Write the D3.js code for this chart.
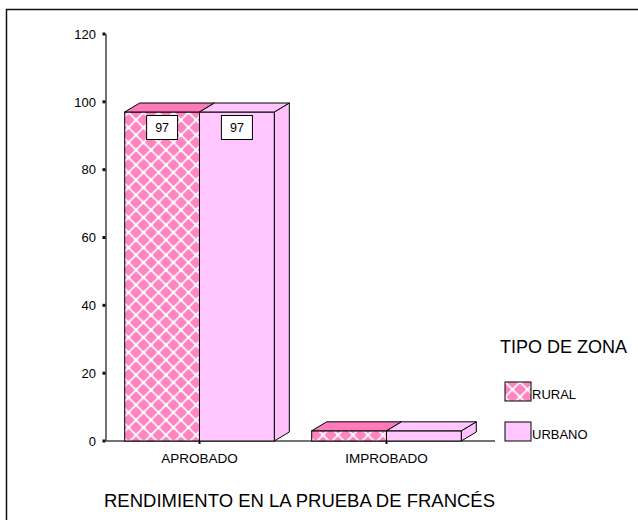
<!DOCTYPE html>
<html>
<head>
<meta charset="utf-8">
<script src="https://cdn.jsdelivr.net/npm/d3@7"></script>
<style>
  body { margin: 0; background: #fff; }
  text { font-family: "Liberation Sans", Arial, sans-serif; fill: #000; }
</style>
</head>
<body>
<svg id="chart" width="638" height="520"></svg>
<script>
// data
const categories = ["APROBADO", "IMPROBADO"]
const seriesNames = ["RURAL", "URBANO"]
const ruralValues = [97, 3]
const urbanoValues = [97, 3]
const yTicks = [0, 20, 40, 60, 80, 100, 120]
const legendTitle = "TIPO DE ZONA"
const xTitle = "RENDIMIENTO EN LA PRUEBA DE FRANCÉS"

let svg = d3.select("#chart")

// frame round the chart (runs off the right and bottom edges)
svg.append("rect")
  .attr("x", 6.5).attr("y", 9.5)
  .attr("width", 700).attr("height", 600)
  .attr("fill", "none").attr("stroke", "#111").attr("stroke-width", 1.5)

// lattice pattern for the rural bars
let defs = svg.append("defs")
const T = 15
let pat = defs.append("pattern")
  .attr("id", "lattice")
  .attr("patternUnits", "userSpaceOnUse")
  .attr("width", T).attr("height", T)
pat.append("rect").attr("width", T).attr("height", T).attr("fill", "#ff85c2")
pat.append("path").attr("d", "M0,0L" + T + "," + T + "M" + T + ",0L0," + T)
  .attr("stroke", "#ffe6f3").attr("stroke-width", 2)
;[[0, 0], [T, 0], [0, T], [T, T], [T / 2, T / 2]].forEach(p => {
  pat.append("circle").attr("cx", p[0]).attr("cy", p[1]).attr("r", 1.8).attr("fill", "#fff")
})

// scales
let x0 = d3.scaleBand().domain(categories).range([106, 480])
let x1 = d3.scaleBand().domain(seriesNames).range([x0.bandwidth() * 0.1, x0.bandwidth() * 0.9])
let y = d3.scaleLinear().domain([0, 120]).range([441, 34])

const dx = 15, dy = -9
const fills = { RURAL: "url(#lattice)", URBANO: "#ffc6ff" }
const topFills = { RURAL: "#ff7ab8", URBANO: "#ffc6ff" }
const sideFills = { RURAL: "#ff7ab8", URBANO: "#ffc0fb" }

// y axis
let yAxis = svg.append("g")
yAxis.append("line")
  .attr("x1", 106).attr("x2", 106)
  .attr("y1", y(120)).attr("y2", y(0))
  .attr("stroke", "#444").attr("stroke-width", 1.5)
yAxis.selectAll(".tickmark").data(yTicks).enter().append("rect")
  .attr("x", 102.5).attr("y", d => y(d) - 1.5)
  .attr("width", 3).attr("height", 3).attr("fill", "#111")
yAxis.selectAll(".ticklabel").data(yTicks).enter().append("text")
  .attr("x", 96).attr("y", d => y(d))
  .attr("dy", "0.36em")
  .attr("text-anchor", "end")
  .style("font-size", "13px")
  .text(d => d)

// baseline
svg.append("line")
  .attr("x1", 106).attr("x2", 495)
  .attr("y1", y(0)).attr("y2", y(0))
  .attr("stroke", "#444").attr("stroke-width", 1.5)

// bars
let rows = categories.map((c, i) => ({ cat: c, vals: [
  { s: "RURAL", v: ruralValues[i] },
  { s: "URBANO", v: urbanoValues[i] }
] }))

let groups = svg.selectAll(".cat").data(rows).enter().append("g")
  .attr("transform", d => "translate(" + x0(d.cat) + ",0)")

groups.each(function (row) {
  let g = d3.select(this)
  row.vals.forEach(d => {
    let left = x1(d.s), right = left + x1.bandwidth()
    let top = y(d.v), bot = y(0)
    // side face
    g.append("path")
      .attr("d", "M" + right + "," + top + "L" + (right + dx) + "," + (top + dy) +
        "L" + (right + dx) + "," + (bot + dy) + "L" + right + "," + bot + "Z")
      .attr("fill", sideFills[d.s]).attr("stroke", "#000").attr("stroke-width", 1)
    // front face
    g.append("rect")
      .attr("x", left).attr("y", top)
      .attr("width", x1.bandwidth()).attr("height", bot - top)
      .attr("fill", fills[d.s]).attr("stroke", "#000").attr("stroke-width", 1)
    // top face
    g.append("path")
      .attr("d", "M" + left + "," + top + "L" + (left + dx) + "," + (top + dy) +
        "L" + (right + dx) + "," + (top + dy) + "L" + right + "," + top + "Z")
      .attr("fill", topFills[d.s]).attr("stroke", "#000").attr("stroke-width", 1)
  })
  // value labels
  row.vals.filter(d => d.v > 10).forEach(d => {
    let cx = x1(d.s) + x1.bandwidth() / 2
    g.append("rect")
      .attr("x", cx - 15.5).attr("y", y(d.v) + 3.5)
      .attr("width", 31).attr("height", 24)
      .attr("fill", "#fff").attr("stroke", "#000").attr("stroke-width", 1)
    g.append("text")
      .attr("x", cx).attr("y", y(d.v) + 20)
      .attr("text-anchor", "middle")
      .style("font-size", "12.5px")
      .text(d.v)
  })
})

// category ticks and labels
svg.selectAll(".xtick").data(categories).enter().append("line")
  .attr("x1", d => x0(d) + x0.bandwidth() / 2).attr("x2", d => x0(d) + x0.bandwidth() / 2)
  .attr("y1", y(0)).attr("y2", y(0) + 3)
  .attr("stroke", "#111").attr("stroke-width", 2)
svg.selectAll(".xlabel").data(categories).enter().append("text")
  .attr("x", d => x0(d) + x0.bandwidth() / 2).attr("y", 463)
  .attr("text-anchor", "middle")
  .style("font-size", "13.5px")
  .text(d => d)

// axis title
svg.append("text")
  .attr("x", 104).attr("y", 507)
  .attr("textLength", 391).attr("lengthAdjust", "spacingAndGlyphs")
  .style("font-size", "18.5px")
  .text(xTitle)

// legend
svg.append("text")
  .attr("x", 500).attr("y", 353)
  .style("font-size", "18px")
  .text(legendTitle)
let leg = svg.selectAll(".legend").data(seriesNames).enter().append("g")
  .attr("transform", (d, i) => "translate(505," + (382 + i * 40) + ")")
leg.append("rect")
  .attr("width", 26).attr("height", 19)
  .attr("fill", d => fills[d]).attr("stroke", "#000").attr("stroke-width", 1)
leg.append("text")
  .attr("x", 27).attr("y", 17)
  .style("font-size", "13px")
  .text(d => d)
</script>
</body>
</html>
